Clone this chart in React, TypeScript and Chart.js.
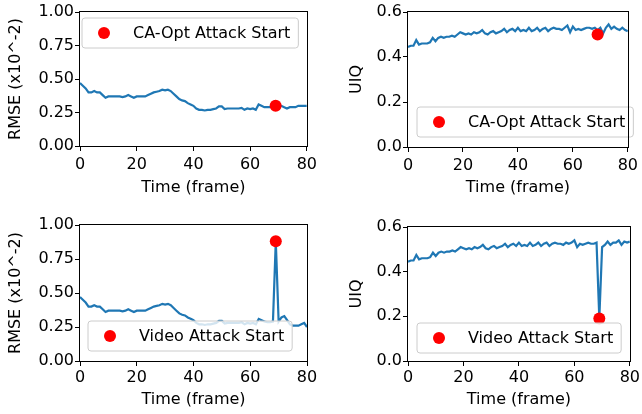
import React, { useEffect, useRef } from 'react';
import { Chart, registerables } from 'chart.js';

Chart.register(...registerables);

// ---------- data ----------
const frames = [
  0, 1, 2, 3, 4, 5, 6, 7, 8, 9, 10, 11, 12, 13, 14, 15, 16, 17, 18, 19, 20,
  21, 22, 23, 24, 25, 26, 27, 28, 29, 30, 31, 32, 33, 34, 35, 36, 37, 38, 39, 40,
  41, 42, 43, 44, 45, 46, 47, 48, 49, 50, 51, 52, 53, 54, 55, 56, 57, 58, 59, 60,
  61, 62, 63, 64, 65, 66, 67, 68, 69, 70, 71, 72, 73, 74, 75, 76, 77, 78, 79, 80,
];

const rmseCA = [
  0.47, 0.45, 0.43, 0.40, 0.40, 0.41, 0.40, 0.40, 0.38, 0.36, 0.37,
  0.37, 0.37, 0.37, 0.37, 0.365, 0.37, 0.38, 0.37, 0.36, 0.37,
  0.37, 0.37, 0.37, 0.38, 0.39, 0.40, 0.405, 0.41, 0.42, 0.415,
  0.42, 0.41, 0.39, 0.37, 0.35, 0.34, 0.335, 0.32, 0.31, 0.30,
  0.28, 0.27, 0.27, 0.265, 0.27, 0.27, 0.275, 0.28, 0.295, 0.295,
  0.275, 0.28, 0.28, 0.28, 0.28, 0.28, 0.285, 0.27, 0.28, 0.275,
  0.28, 0.27, 0.31, 0.30, 0.29, 0.29, 0.29, 0.30, 0.29, 0.30,
  0.30, 0.29, 0.28, 0.29, 0.29, 0.29, 0.30, 0.30, 0.30, 0.30,
];

const rmseVideo = [
  0.47, 0.45, 0.43, 0.40, 0.40, 0.41, 0.40, 0.40, 0.38, 0.36, 0.37,
  0.37, 0.37, 0.37, 0.37, 0.365, 0.37, 0.38, 0.37, 0.36, 0.37,
  0.37, 0.37, 0.37, 0.38, 0.39, 0.40, 0.405, 0.41, 0.42, 0.415,
  0.42, 0.41, 0.39, 0.37, 0.35, 0.34, 0.335, 0.32, 0.31, 0.30,
  0.28, 0.27, 0.27, 0.265, 0.27, 0.27, 0.275, 0.28, 0.295, 0.295,
  0.275, 0.28, 0.28, 0.28, 0.28, 0.28, 0.285, 0.27, 0.28, 0.275,
  0.28, 0.27, 0.31, 0.30, 0.29, 0.285, 0.285, 0.29, 0.88, 0.29,
  0.32, 0.33, 0.30, 0.27, 0.26, 0.26, 0.26, 0.27, 0.28, 0.25,
];

const uiqCA = [
  0.445, 0.45, 0.45, 0.475, 0.455, 0.46, 0.46, 0.46, 0.465, 0.485, 0.47,
  0.485, 0.49, 0.485, 0.49, 0.49, 0.495, 0.49, 0.50, 0.51, 0.505,
  0.50, 0.505, 0.50, 0.51, 0.505, 0.51, 0.52, 0.505, 0.50, 0.51,
  0.515, 0.505, 0.51, 0.515, 0.525, 0.51, 0.52, 0.525, 0.515, 0.53,
  0.515, 0.52, 0.515, 0.53, 0.515, 0.52, 0.53, 0.515, 0.525, 0.53,
  0.515, 0.525, 0.53, 0.525, 0.525, 0.52, 0.53, 0.54, 0.51, 0.535,
  0.52, 0.525, 0.52, 0.525, 0.53, 0.53, 0.525, 0.53, 0.52, 0.53,
  0.505, 0.53, 0.545, 0.525, 0.535, 0.525, 0.52, 0.53, 0.52, 0.515,
];

const uiqVideo = [
  0.445, 0.45, 0.45, 0.475, 0.455, 0.46, 0.46, 0.46, 0.465, 0.485, 0.47,
  0.485, 0.49, 0.485, 0.49, 0.49, 0.495, 0.49, 0.50, 0.51, 0.505,
  0.50, 0.505, 0.50, 0.51, 0.505, 0.51, 0.52, 0.505, 0.50, 0.51,
  0.515, 0.505, 0.51, 0.515, 0.525, 0.51, 0.52, 0.525, 0.515, 0.53,
  0.515, 0.52, 0.515, 0.53, 0.515, 0.52, 0.53, 0.515, 0.525, 0.53,
  0.515, 0.525, 0.53, 0.525, 0.525, 0.52, 0.53, 0.525, 0.53, 0.54,
  0.51, 0.525, 0.52, 0.525, 0.53, 0.525, 0.525, 0.53, 0.19, 0.51,
  0.52, 0.535, 0.52, 0.53, 0.53, 0.54, 0.52, 0.535, 0.53, 0.535,
];

const attackFrame = 69;
const caRmseMarker = 0.30;
const videoRmseMarker = 0.88;
const caUiqMarker = 0.50;
const videoUiqMarker = 0.19;

const xTickValues = [0, 20, 40, 60, 80];
const rmseTickValues = [0, 0.25, 0.5, 0.75, 1.0];
const uiqTickValues = [0, 0.2, 0.4, 0.6];

const caLabel = 'CA-Opt Attack Start';
const videoLabel = 'Video Attack Start';
const rmseTitle = 'RMSE (x10^-2)';
const uiqTitle = 'UIQ';
const xTitle = 'Time (frame)';

// ---------- styling ----------
const FONT = '"DejaVu Sans", "Liberation Sans", sans-serif';
const LINE_COLOR = '#1f77b4';
const DOT_COLOR = '#ff0000';

type Panel = {
  left: number;
  top: number;
  values: number[];
  marker: number;
  label: string;
  yTitle: string;
  yMax: number;
  yTicks: number[];
  decimals: number;
  yWidth: number;
  xHeight: number;
  pad: { top: number; right: number };
  yTitlePad: number;
  xTitlePad: number;
  xTickPad: number;
  legend: { dx: number; dy: number; anchor: 'top' | 'bottom' };
};

const panels: Panel[] = [
  {
    left: 0, top: 0, values: rmseCA, marker: caRmseMarker, label: caLabel,
    yTitle: rmseTitle, yMax: 1.0, yTicks: rmseTickValues, decimals: 2,
    yWidth: 80, xHeight: 61, pad: { top: 12, right: 14 },
    yTitlePad: 6.4, xTitlePad: 9.4, xTickPad: 4,
    legend: { dx: 2, dy: 6, anchor: 'top' },
  },
  {
    left: 321, top: 0, values: uiqCA, marker: caUiqMarker, label: caLabel,
    yTitle: uiqTitle, yMax: 0.6, yTicks: uiqTickValues, decimals: 1,
    yWidth: 87, xHeight: 60, pad: { top: 12, right: 9 },
    yTitlePad: 26.4, xTitlePad: 9.4, xTickPad: 4,
    legend: { dx: 9, dy: 10, anchor: 'bottom' },
  },
  {
    left: 0, top: 207, values: rmseVideo, marker: videoRmseMarker, label: videoLabel,
    yTitle: rmseTitle, yMax: 1.0, yTicks: rmseTickValues, decimals: 2,
    yWidth: 80, xHeight: 53, pad: { top: 18, right: 14 },
    yTitlePad: 6.4, xTitlePad: 4.4, xTickPad: 2,
    legend: { dx: 8, dy: 10, anchor: 'bottom' },
  },
  {
    left: 321, top: 207, values: uiqVideo, marker: videoUiqMarker, label: videoLabel,
    yTitle: uiqTitle, yMax: 0.6, yTicks: uiqTickValues, decimals: 1,
    yWidth: 87, xHeight: 53, pad: { top: 20, right: 9 },
    yTitlePad: 26.4, xTitlePad: 4.4, xTickPad: 2,
    legend: { dx: 9, dy: 8, anchor: 'bottom' },
  },
];

function makeFramePlugin() {
  return {
    id: 'axesFrame',
    afterDraw(chart: any) {
      const { ctx, chartArea } = chart;
      ctx.save();
      ctx.strokeStyle = '#000';
      ctx.lineWidth = 1;
      const l = Math.round(chartArea.left) - 0.5;
      const r = Math.round(chartArea.right) + 0.5;
      const t = Math.round(chartArea.top) - 0.5;
      const b = Math.round(chartArea.bottom) + 0.5;
      ctx.strokeRect(l, t, r - l, b - t);
      ctx.restore();
    },
  };
}

function makeLegendPlugin(p: Panel) {
  return {
    id: 'boxLegend',
    afterDatasetsDraw(chart: any) {
      const { ctx, chartArea } = chart;
      ctx.save();
      ctx.font = `16px ${FONT}`;
      const tw = ctx.measureText(p.label).width;
      const w = 51 + tw + 8;
      const h = 30;
      const x = chartArea.left + p.legend.dx;
      const y = p.legend.anchor === 'top'
        ? chartArea.top + p.legend.dy
        : chartArea.bottom - p.legend.dy - h;
      const rr = 3;
      ctx.beginPath();
      ctx.moveTo(x + rr, y);
      ctx.lineTo(x + w - rr, y);
      ctx.arcTo(x + w, y, x + w, y + rr, rr);
      ctx.lineTo(x + w, y + h - rr);
      ctx.arcTo(x + w, y + h, x + w - rr, y + h, rr);
      ctx.lineTo(x + rr, y + h);
      ctx.arcTo(x, y + h, x, y + h - rr, rr);
      ctx.lineTo(x, y + rr);
      ctx.arcTo(x, y, x + rr, y, rr);
      ctx.closePath();
      ctx.fillStyle = 'rgba(255,255,255,0.8)';
      ctx.fill();
      ctx.strokeStyle = '#cccccc';
      ctx.lineWidth = 1;
      ctx.stroke();
      ctx.beginPath();
      ctx.arc(x + 22, y + h / 2, 6, 0, Math.PI * 2);
      ctx.fillStyle = DOT_COLOR;
      ctx.fill();
      ctx.fillStyle = '#000';
      ctx.textBaseline = 'middle';
      ctx.textAlign = 'left';
      ctx.fillText(p.label, x + 51, y + h / 2 + 1);
      ctx.restore();
    },
  };
}

function ChartPanel({ p }: { p: Panel }) {
  const ref = useRef<HTMLCanvasElement | null>(null);
  useEffect(() => {
    if (!ref.current) return;
    const chart = new Chart(ref.current, {
      type: 'line',
      data: {
        datasets: [
          {
            type: 'scatter',
            label: p.label,
            data: [{ x: attackFrame, y: p.marker }],
            backgroundColor: DOT_COLOR,
            borderColor: DOT_COLOR,
            pointRadius: 6,
            pointBorderWidth: 0,
            order: 0,
          } as any,
          {
            type: 'line',
            label: 'series',
            data: frames.map((f, i) => ({ x: f, y: p.values[i] })),
            borderColor: LINE_COLOR,
            borderWidth: 2.2,
            pointRadius: 0,
            tension: 0,
            fill: false,
            order: 1,
          },
        ],
      },
      options: {
        responsive: false,
        animation: false,
        events: [],
        layout: { padding: { left: 0, right: p.pad.right, top: p.pad.top, bottom: 0 } },
        plugins: {
          legend: { display: false },
          tooltip: { enabled: false },
          title: { display: false },
        },
        scales: {
          x: {
            type: 'linear',
            min: 0,
            max: 80,
            afterBuildTicks: (s: any) => { s.ticks = xTickValues.map((v) => ({ value: v })); },
            afterFit: (s: any) => { s.height = p.xHeight; },
            grid: { display: true, drawOnChartArea: false, drawTicks: true, tickLength: 5, color: '#000', lineWidth: 1 },
            border: { display: false },
            ticks: {
              color: '#000',
              font: { family: FONT, size: 16 },
              padding: p.xTickPad,
              maxRotation: 0,
              autoSkip: false,
              callback: (v: any) => String(v),
            },
            title: {
              display: true,
              text: xTitle,
              color: '#000',
              font: { family: FONT, size: 16 },
              padding: { top: 0, bottom: p.xTitlePad },
            },
          },
          y: {
            type: 'linear',
            min: 0,
            max: p.yMax,
            afterBuildTicks: (s: any) => { s.ticks = p.yTicks.map((v) => ({ value: v })); },
            afterFit: (s: any) => { s.width = p.yWidth; },
            grid: { display: true, drawOnChartArea: false, drawTicks: true, tickLength: 5, color: '#000', lineWidth: 1 },
            border: { display: false },
            ticks: {
              color: '#000',
              font: { family: FONT, size: 16 },
              padding: 1,
              autoSkip: false,
              callback: (v: any) => Number(v).toFixed(p.decimals),
            },
            title: {
              display: true,
              text: p.yTitle,
              color: '#000',
              font: { family: FONT, size: 16 },
              padding: { top: p.yTitlePad, bottom: 0 },
            },
          },
        },
      } as any,
      plugins: [makeLegendPlugin(p), makeFramePlugin()],
    });
    return () => chart.destroy();
  }, [p]);
  return (
    <canvas
      ref={ref}
      width={321}
      height={207}
      style={{ position: 'absolute', left: p.left, top: p.top, width: 321, height: 207 }}
    />
  );
}

export default function App() {
  return (
    <div style={{ position: 'absolute', left: 0, top: 0, width: 642, height: 414, background: '#fff', overflow: 'hidden' }}>
      {panels.map((p, i) => (
        <ChartPanel key={i} p={p} />
      ))}
    </div>
  );
}
